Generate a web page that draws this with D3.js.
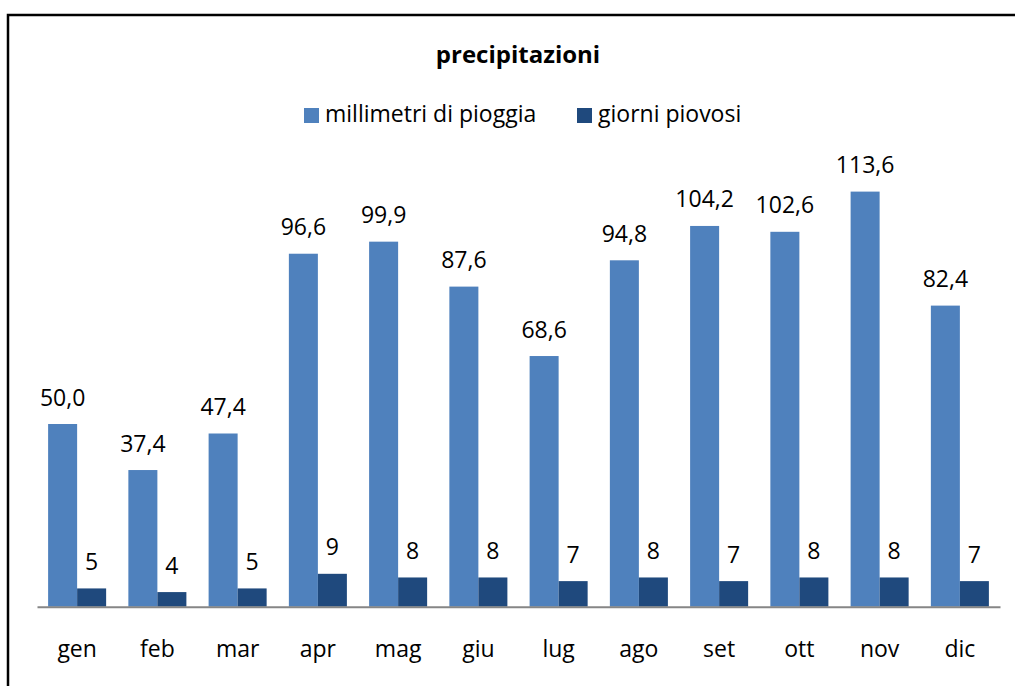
<!DOCTYPE html>
<html>
<head>
<meta charset="utf-8">
<script src="https://cdn.jsdelivr.net/npm/d3@7"></script>
<style>
  body { margin: 0; background: #fff; }
  text { font-family: "Open Sans", sans-serif; fill: #000; }
</style>
</head>
<body>
<svg id="chart" width="1015" height="686"></svg>
<script>
// monthly rain data
const months = ["gen", "feb", "mar", "apr", "mag", "giu", "lug", "ago", "set", "ott", "nov", "dic"];
const millimetri = [50.0, 37.4, 47.4, 96.6, 99.9, 87.6, 68.6, 94.8, 104.2, 102.6, 113.6, 82.4];
const giorni = [5, 4, 5, 9, 8, 8, 7, 8, 7, 8, 8, 7];
const seriesNames = ["millimetri di pioggia", "giorni piovosi"];
const seriesColors = ["#4F81BD", "#1F497D"];

const svg = d3.select("#chart");

// outer frame, runs off the right and bottom edge
svg.append("rect")
  .attr("x", 8).attr("y", 15)
  .attr("width", 1030).attr("height", 700)
  .attr("fill", "none")
  .attr("stroke", "#000")
  .attr("stroke-width", 2.5);

const baseY = 606.7;

const x0 = d3.scaleBand()
  .domain(months)
  .range([37, 1000])
  .paddingInner(0.277)
  .paddingOuter(0.1385);

const x1 = d3.scaleBand()
  .domain([0, 1])
  .range([0, x0.bandwidth()]);

const y = d3.scaleLinear()
  .domain([0, 120])
  .range([baseY, baseY - 120 * 3.654]);

const rows = months.map((m, i) => ({month: m, values: [millimetri[i], giorni[i]]}));

const groups = svg.append("g").selectAll("g")
  .data(rows)
  .join("g")
  .attr("transform", d => `translate(${x0(d.month)},0)`);

groups.selectAll("rect")
  .data(d => d.values.map((v, k) => ({v, k})))
  .join("rect")
  .attr("x", d => x1(d.k))
  .attr("y", d => y(d.v))
  .attr("width", x1.bandwidth())
  .attr("height", d => baseY - y(d.v))
  .attr("fill", d => seriesColors[d.k]);

groups.selectAll("text.val")
  .data(d => d.values.map((v, k) => ({v, k})))
  .join("text")
  .attr("class", "val")
  .attr("x", d => x1(d.k) + x1.bandwidth() / 2)
  .attr("y", d => y(d.v) - 18.5)
  .attr("text-anchor", "middle")
  .attr("font-size", 23)
  .text(d => d.k === 0 ? d.v.toFixed(1).replace(".", ",") : d.v);

// category axis
const xAxis = svg.append("g")
  .attr("transform", `translate(0,${baseY})`)
  .call(d3.axisBottom(x0).tickSize(0).tickPadding(34));

xAxis.select(".domain")
  .attr("stroke", "#868686")
  .attr("stroke-width", 2);

xAxis.selectAll("text")
  .attr("font-size", 23)
  .attr("font-family", "Open Sans, sans-serif")
  .attr("fill", "#000");

// title
svg.append("text")
  .attr("x", 518)
  .attr("y", 63)
  .attr("text-anchor", "middle")
  .attr("font-size", 24)
  .attr("font-weight", "bold")
  .text("precipitazioni");

// legend
const legendX = [304, 577];
const legend = svg.append("g").selectAll("g")
  .data(seriesNames)
  .join("g")
  .attr("transform", (d, i) => `translate(${legendX[i]},108)`);

legend.append("rect")
  .attr("width", 15).attr("height", 15)
  .attr("fill", (d, i) => seriesColors[i]);

legend.append("text")
  .attr("x", 21)
  .attr("y", 14)
  .attr("font-size", 23)
  .text(d => d);
</script>
</body>
</html>
